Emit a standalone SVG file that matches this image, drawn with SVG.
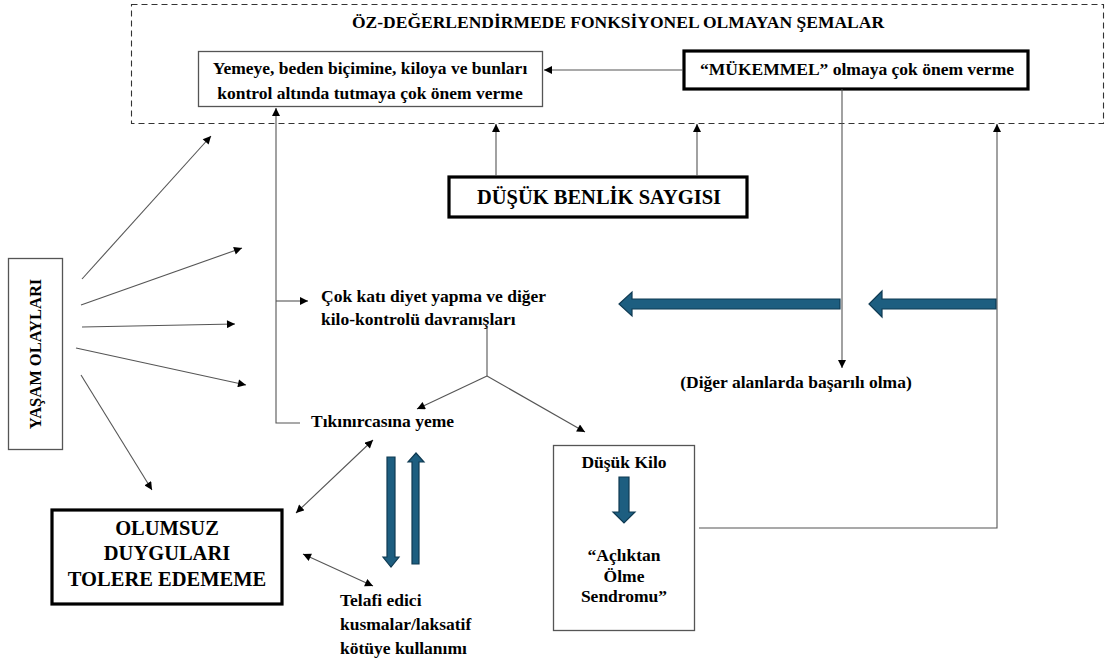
<svg xmlns="http://www.w3.org/2000/svg" width="1105" height="662" viewBox="0 0 1105 662">
<defs>
<marker id="ah" viewBox="0 0 10 10" refX="10" refY="5" markerWidth="9" markerHeight="8" markerUnits="userSpaceOnUse" orient="auto-start-reverse">
<path d="M0,0 L10,5 L0,10 z" fill="#000"/>
</marker>
<style>
.t{font-weight:bold;fill:#000;}
.b{font-size:17.5px;}
.big{font-size:20.5px;}
.c{text-anchor:middle;}
.thin{fill:#fff;stroke:#555;stroke-width:1.3;}
.thick{fill:#fff;stroke:#000;stroke-width:3.2;}
.ln{fill:none;stroke:#555;stroke-width:1.1;}
.ar{fill:none;stroke:#555;stroke-width:1.1;marker-end:url(#ah);}
.ar2{fill:none;stroke:#555;stroke-width:1.1;marker-end:url(#ah);marker-start:url(#ah);}
.blue{fill:#1d5e80;stroke:#0f3a52;stroke-width:1.2;}
</style>
</defs>
<rect width="1105" height="662" fill="#fff"/>
<g font-family="'Liberation Serif', 'Times New Roman', 'DejaVu Serif', serif">

<g id="schemas">
<rect x="131.5" y="4.5" width="972" height="119" fill="none" stroke="#333" stroke-width="1.1" stroke-dasharray="6,4"/>
<text class="t b c" x="618" y="28">ÖZ-DEĞERLENDİRMEDE FONKSİYONEL OLMAYAN ŞEMALAR</text>
</g>

<g id="yemeye">
<rect class="thin" x="198.5" y="51.5" width="344" height="55"/>
<text class="t b c" x="370" y="74">Yemeye, beden biçimine, kiloya ve bunları</text>
<text class="t b c" x="370" y="99">kontrol altında tutmaya çok önem verme</text>
</g>

<g id="mukemmel">
<rect class="thick" x="684" y="51" width="344" height="38"/>
<text class="t b c" x="857" y="75">“MÜKEMMEL” olmaya çok önem verme</text>
</g>

<g id="benlik">
<rect class="thick" x="449" y="177" width="298" height="40"/>
<text class="t big c" x="599" y="204">DÜŞÜK BENLİK SAYGISI</text>
</g>

<g id="yasam">
<rect class="thin" x="8.5" y="258.5" width="54" height="191"/>
<text class="t c" font-size="16.5" transform="translate(41,354) rotate(-90)">YAŞAM OLAYLARI</text>
</g>

<g id="diyet">
<text class="t b" x="321" y="302">Çok katı diyet yapma ve diğer</text>
<text class="t b" x="321" y="325">kilo-kontrolü davranışları</text>
</g>

<g id="basari">
<text class="t b c" x="796" y="388">(Diğer alanlarda başarılı olma)</text>
</g>

<g id="tikinircasina">
<text class="t b" x="311" y="427">Tıkınırcasına yeme</text>
</g>

<g id="olumsuz">
<rect class="thick" x="52" y="510" width="230" height="94"/>
<text class="t big c" x="167" y="535">OLUMSUZ</text>
<text class="t big c" x="167" y="560">DUYGULARI</text>
<text class="t big c" x="167" y="586">TOLERE EDEMEME</text>
</g>

<g id="telafi">
<text class="t b" x="340" y="606">Telafi edici</text>
<text class="t b" x="340" y="630">kusmalar/laksatif</text>
<text class="t b" x="340" y="654">kötüye kullanımı</text>
</g>

<g id="dusukkilo">
<rect class="thin" x="553.5" y="445.5" width="141" height="185"/>
<text class="t b c" x="624" y="468">Düşük Kilo</text>
<polygon class="blue" points="619,477 629,477 629,512 635,512 624,523 613,512 619,512"/>
<text class="t b c" x="624" y="561">“Açlıktan</text>
<text class="t b c" x="624" y="582">Ölme</text>
<text class="t b c" x="624" y="602">Sendromu”</text>
</g>
</g>

<g id="connectors">
<line class="ar" x1="683" y1="70" x2="544" y2="70"/>
<polyline class="ar" points="300,423 276,423 276,108"/>
<line class="ar" x1="276" y1="301" x2="308" y2="301"/>
<line class="ar" x1="496" y1="176" x2="496" y2="124"/>
<line class="ar" x1="697" y1="176" x2="697" y2="124"/>
<line class="ar" x1="842" y1="89" x2="842" y2="368"/>
<polyline class="ar" points="699,528 997,528 997,124"/>
<line class="ln" x1="487" y1="327" x2="487" y2="376"/>
<line class="ar" x1="487" y1="376" x2="417" y2="409"/>
<line class="ar" x1="487" y1="376" x2="585" y2="432"/>
<line class="ar" x1="82" y1="279" x2="211" y2="136"/>
<line class="ar" x1="81" y1="305" x2="242" y2="248"/>
<line class="ar" x1="82" y1="327" x2="235" y2="324"/>
<line class="ar" x1="76" y1="348" x2="246" y2="385"/>
<line class="ar" x1="81" y1="375" x2="152" y2="490"/>
<line class="ar2" x1="373" y1="440" x2="296" y2="513"/>
<line class="ar2" x1="303" y1="554" x2="373" y2="586"/>
<polygon class="blue" points="840,299 840,309 632,309 632,316 619,304 632,292 632,299"/>
<polygon class="blue" points="996,299 996,309 882,309 882,317 869,304 882,291 882,299"/>
<polygon class="blue" points="387,457 395,457 395,557 399,557 391,567 383,557 387,557"/>
<polygon class="blue" points="412,564 419,564 419,462 424,462 416,453 408,462 412,462"/>
</g>
</svg>
